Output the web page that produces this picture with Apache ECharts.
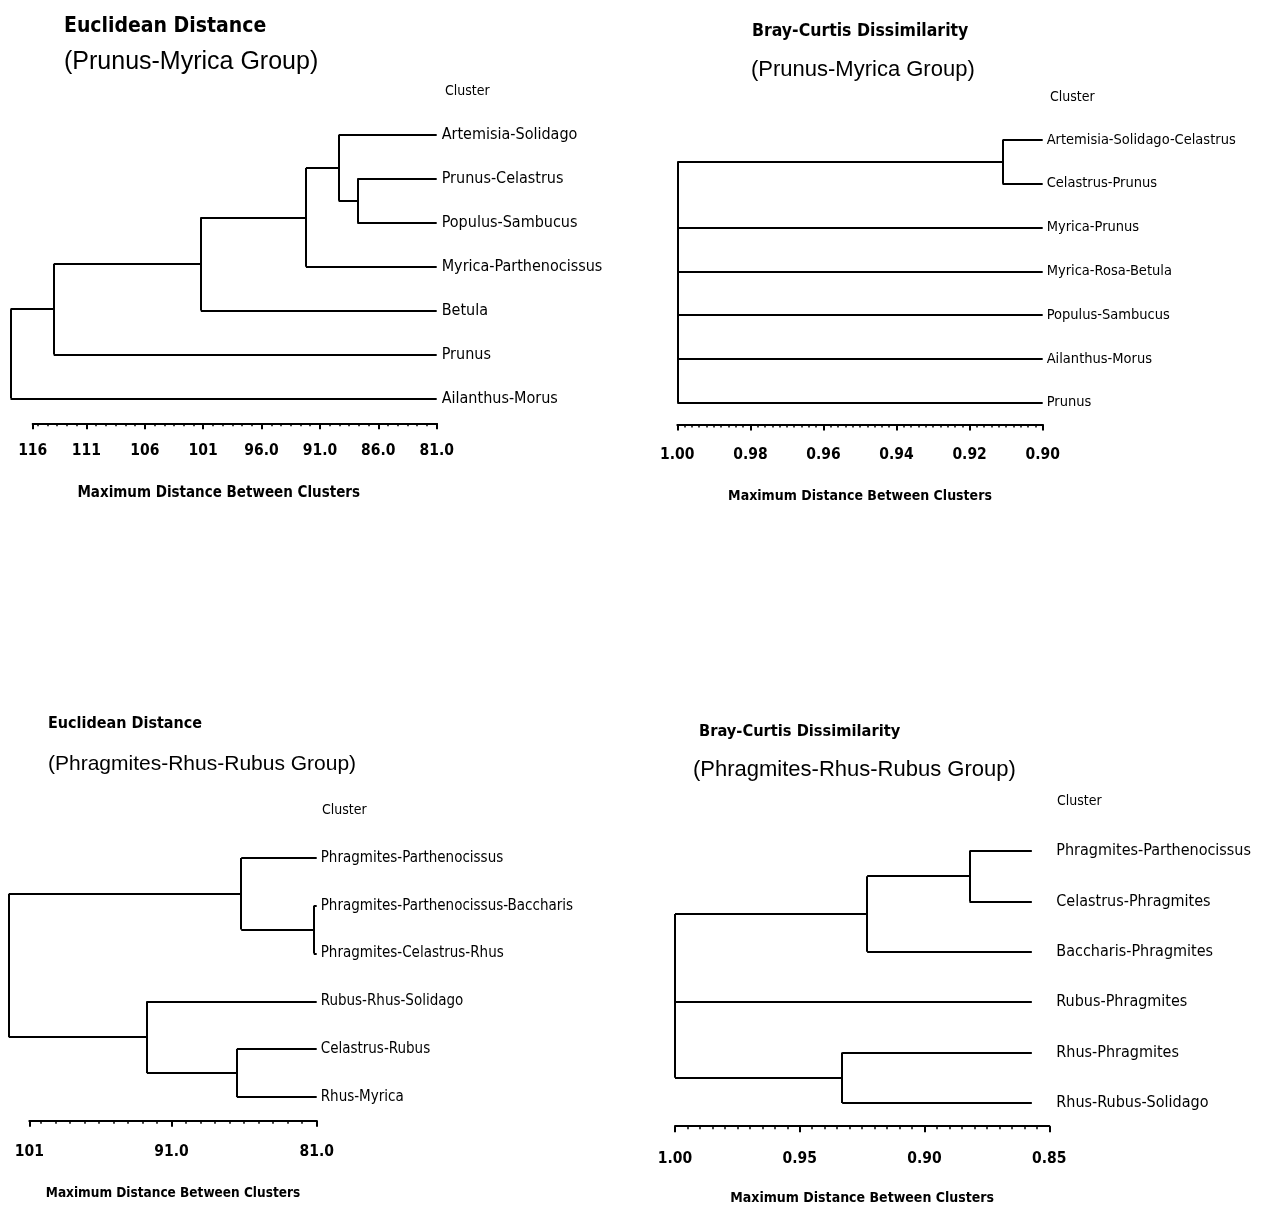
<!DOCTYPE html>
<html>
<head>
<meta charset="utf-8">
<script src="https://cdn.jsdelivr.net/npm/echarts@6/dist/echarts.min.js"></script>
<style>
  html, body { margin: 0; padding: 0; background: #fff; }
  #chart { width: 1267px; height: 1206px; }
</style>
</head>
<body>
<div id="chart"></div>
<script>
// ---- Euclidean distance, Prunus-Myrica group ----
const euclidLeavesA = ['Artemisia-Solidago', 'Prunus-Celastrus', 'Populus-Sambucus',
  'Myrica-Parthenocissus', 'Betula', 'Prunus', 'Ailanthus-Morus'];
// each join lists its children: a number is a leaf index, 'mK' is the K-th join
const euclidJoinsA = [[1, 2], [0, 'm0'], ['m1', 3], ['m2', 4], ['m3', 5], ['m4', 6]];
const euclidHeightsA = [87.8, 89.4, 92.2, 101.2, 113.8, 117.5];
const euclidLeafHeightA = 81;
const euclidTickValuesA = [115.6, 111, 106, 101, 96, 91, 86, 81];
const euclidTickLabelsA = ['116', '111', '106', '101', '96.0', '91.0', '86.0', '81.0'];

// ---- Bray-Curtis dissimilarity, Prunus-Myrica group ----
const brayLeavesB = ['Artemisia-Solidago-Celastrus', 'Celastrus-Prunus', 'Myrica-Prunus',
  'Myrica-Rosa-Betula', 'Populus-Sambucus', 'Ailanthus-Morus', 'Prunus'];
const brayJoinsB = [[0, 1], ['m0', 2, 3, 4, 5, 6]];
const brayHeightsB = [0.911, 1.00];
const brayLeafHeightB = 0.90;
const brayTickValuesB = [1.00, 0.98, 0.96, 0.94, 0.92, 0.90];
const brayTickLabelsB = ['1.00', '0.98', '0.96', '0.94', '0.92', '0.90'];

// ---- Euclidean distance, Phragmites-Rhus-Rubus group ----
const euclidLeavesC = ['Phragmites-Parthenocissus', 'Phragmites-Parthenocissus-Baccharis',
  'Phragmites-Celastrus-Rhus', 'Rubus-Rhus-Solidago', 'Celastrus-Rubus', 'Rhus-Myrica'];
const euclidJoinsC = [[1, 2], [0, 'm0'], [4, 5], [3, 'm2'], ['m1', 'm3']];
const euclidHeightsC = [81.2, 86.2, 86.5, 92.7, 102.2];
const euclidLeafHeightC = 81;
const euclidTickValuesC = [100.8, 91, 81];
const euclidTickLabelsC = ['101', '91.0', '81.0'];

// ---- Bray-Curtis dissimilarity, Phragmites-Rhus-Rubus group ----
const brayLeavesD = ['Phragmites-Parthenocissus', 'Celastrus-Phragmites', 'Baccharis-Phragmites',
  'Rubus-Phragmites', 'Rhus-Phragmites', 'Rhus-Rubus-Solidago'];
const brayJoinsD = [[0, 1], ['m0', 2], [4, 5], ['m1', 3, 'm2']];
const brayHeightsD = [0.882, 0.923, 0.933, 1.00];
const brayLeafHeightD = 0.857;
const brayTickValuesD = [1.00, 0.95, 0.90, 0.85];
const brayTickLabelsD = ['1.00', '0.95', '0.90', '0.85'];

const axisName = 'Maximum Distance Between Clusters';
const FONT_NARROW = "'DejaVu Sans Condensed', 'Liberation Sans Narrow', 'Arial Narrow', sans-serif";
const FONT_PLAIN = "'Liberation Sans', 'DejaVu Sans', Arial, sans-serif";

const panels = [
  {
    leaves: euclidLeavesA, joins: euclidJoinsA, heights: euclidHeightsA, leafHeight: euclidLeafHeightA,
    ticks: euclidTickValuesA, labels: euclidTickLabelsA, minorStep: 5 / 6,
    title: 'Euclidean Distance', sub: '(Prunus-Myrica Group)',
    titlePos: [64, 16, 21], subPos: [64, 50, 25], clusterPos: [445, 84],
    grid: { left: 32.7, width: 404, top: 113, height: 307.3 },
    offset: 3, labelMargin: 20, nameGap: 62, nameSize: 15, leafSize: 16, leafMargin: 5, namePad: [0, 32, 0, 0]
  },
  {
    leaves: brayLeavesB, joins: brayJoinsB, heights: brayHeightsB, leafHeight: brayLeafHeightB,
    ticks: brayTickValuesB, labels: brayTickLabelsB, minorStep: 0.002,
    title: 'Bray-Curtis Dissimilarity', sub: '(Prunus-Myrica Group)',
    titlePos: [752, 22, 17.5], subPos: [751, 59, 22], clusterPos: [1050, 90],
    grid: { left: 677.3, width: 365.4, top: 118, height: 306.6 },
    offset: 0, labelMargin: 22, nameGap: 65, nameSize: 14, leafSize: 14.5, leafMargin: 4, namePad: [0, 0, 0, 0]
  },
  {
    leaves: euclidLeavesC, joins: euclidJoinsC, heights: euclidHeightsC, leafHeight: euclidLeafHeightC,
    ticks: euclidTickValuesC, labels: euclidTickLabelsC, minorStep: 1,
    title: 'Euclidean Distance', sub: '(Phragmites-Rhus-Rubus Group)',
    titlePos: [48, 716, 16], subPos: [48, 754, 21], clusterPos: [322, 803],
    grid: { left: 29.3, width: 287.4, top: 834, height: 286.8 },
    offset: 0, labelMargin: 23, nameGap: 66, nameSize: 13.5, leafSize: 15, leafMargin: 4, namePad: [0, 0, 0, 0]
  },
  {
    leaves: brayLeavesD, joins: brayJoinsD, heights: brayHeightsD, leafHeight: brayLeafHeightD,
    ticks: brayTickValuesD, labels: brayTickLabelsD, minorStep: 0.005,
    title: 'Bray-Curtis Dissimilarity', sub: '(Phragmites-Rhus-Rubus Group)',
    titlePos: [699, 724, 16.3], subPos: [693, 759, 22], clusterPos: [1057, 794],
    grid: { left: 675, width: 374.3, top: 825.8, height: 302.4 },
    offset: -2, labelMargin: 25, nameGap: 65, nameSize: 14, leafSize: 16, leafMargin: 7, namePad: [0, 0, 0, 0]
  }
];

// Turn a join list into straight segments: a horizontal stem for every child
// and a vertical bar spanning the children at the join height.
function treeSegments(p) {
  const nodes = p.leaves.map((_, i) => ({ x: p.leafHeight, y: i }));
  const joined = [];
  const ref = c => (typeof c === 'number' ? nodes[c] : joined[+c.slice(1)]);
  const segs = [];
  p.joins.forEach((kids, k) => {
    const H = p.heights[k];
    const pts = kids.map(ref);
    pts.forEach(q => segs.push([[q.x, q.y], [H, q.y]]));
    const ys = pts.map(q => q.y);
    const y0 = Math.min(...ys), y1 = Math.max(...ys);
    segs.push([[H, y0], [H, y1]]);
    joined.push({ x: H, y: (y0 + y1) / 2 });
  });
  return segs;
}

function minorTicks(p) {
  const lo = Math.min(...p.ticks), hi = Math.max(...p.ticks);
  const out = [];
  for (let k = 0; lo + k * p.minorStep <= hi + 1e-9; k++) out.push(+(lo + k * p.minorStep).toFixed(6));
  return out;
}

const option = {
  backgroundColor: '#fff',
  animation: false,
  title: [],
  grid: [],
  xAxis: [],
  yAxis: [],
  series: []
};

panels.forEach((p, i) => {
  const lo = Math.min(...p.ticks), hi = Math.max(...p.ticks);
  option.title.push(
    { text: p.title, left: p.titlePos[0], top: p.titlePos[1], padding: 0,
      textStyle: { fontFamily: FONT_NARROW, fontWeight: 'bold', fontSize: p.titlePos[2], color: '#000' } },
    { text: p.sub, left: p.subPos[0], top: p.subPos[1], padding: 0,
      textStyle: { fontFamily: FONT_PLAIN, fontWeight: 'normal', fontSize: p.subPos[2], color: '#000' } },
    { text: 'Cluster', left: p.clusterPos[0], top: p.clusterPos[1], padding: 0,
      textStyle: { fontFamily: FONT_NARROW, fontWeight: 'normal', fontSize: 14, color: '#000' } }
  );
  option.grid.push(Object.assign({ containLabel: false, outerBoundsMode: 'none' }, p.grid));

  const fmt = v => {
    const j = p.ticks.findIndex(t => Math.abs(t - v) < 1e-6);
    return j >= 0 ? p.labels[j] : '';
  };
  // ruler with labelled major ticks (below the tree)
  option.xAxis.push({
    type: 'value', gridIndex: i, inverse: true, min: lo, max: hi, position: 'bottom', offset: p.offset,
    axisLine: { show: true, onZero: false, lineStyle: { color: '#000', width: 2 } },
    axisTick: { show: true, customValues: p.ticks, length: 6, lineStyle: { color: '#000', width: 2 } },
    axisLabel: { show: true, customValues: p.ticks, formatter: fmt, margin: p.labelMargin,
      fontFamily: FONT_NARROW, fontWeight: 'bold', fontSize: 15.5, color: '#000' },
    splitLine: { show: false },
    name: axisName, nameLocation: 'middle', nameGap: p.nameGap,
    nameTextStyle: { fontFamily: FONT_NARROW, fontWeight: 'bold', fontSize: p.nameSize, color: '#000', padding: p.namePad }
  });
  // fine graduations of the same ruler, shifted down onto the ruler line
  option.xAxis.push({
    type: 'value', gridIndex: i, inverse: true, min: lo, max: hi, position: 'top',
    offset: -(p.grid.height + p.offset),
    axisLine: { show: false, onZero: false },
    axisTick: { show: true, inside: true, customValues: minorTicks(p), length: 3, lineStyle: { color: '#000', width: 1.5 } },
    axisLabel: { show: false },
    splitLine: { show: false }
  });
  // leaf rows (numeric, for drawing) and the leaf names (on the right)
  option.yAxis.push({
    type: 'value', gridIndex: i, inverse: true, min: -0.5, max: p.leaves.length - 0.5, show: false,
    position: 'left', axisLine: { onZero: false }, splitLine: { show: false }
  });
  option.yAxis.push({
    type: 'category', gridIndex: i, inverse: true, position: 'right', data: p.leaves,
    axisLine: { show: false, onZero: false }, axisTick: { show: false }, splitLine: { show: false },
    axisLabel: { margin: p.leafMargin, fontFamily: FONT_NARROW, fontSize: p.leafSize, color: '#000' }
  });
  option.series.push({
    type: 'lines', coordinateSystem: 'cartesian2d', xAxisIndex: 2 * i, yAxisIndex: 2 * i,
    clip: false, silent: true, polyline: false,
    lineStyle: { color: '#000', width: 2, opacity: 1 },
    data: treeSegments(p).map(c => ({ coords: c }))
  });
});

const chart = echarts.init(document.getElementById('chart'), null, { renderer: 'canvas' });
chart.setOption(option);
</script>
</body>
</html>
